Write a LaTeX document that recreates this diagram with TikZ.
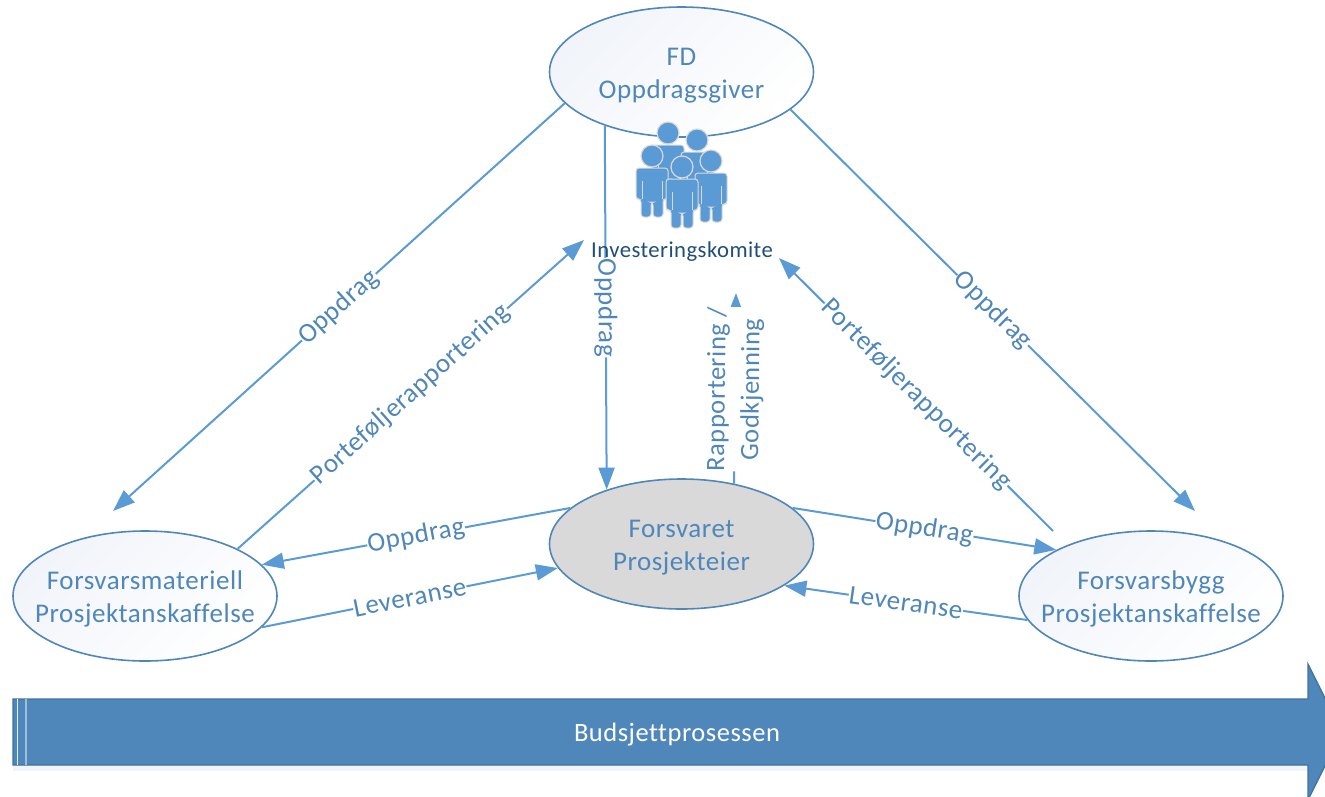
\documentclass[tikz,border=0pt]{standalone}
\usepackage{fontspec}
\setmainfont[LetterSpace=2,Ligatures=NoCommon]{Carlito}
\usetikzlibrary{shapes.geometric,arrows.meta}
\definecolor{boxblue}{HTML}{4F87BA}
\definecolor{lineblue}{HTML}{5B9BD5}
\definecolor{edgeblue}{HTML}{41719C}
\definecolor{navyblue}{HTML}{1F4E79}
\definecolor{paleblue}{HTML}{F1F4FA}
\newcommand{\midtext}[1]{\makebox[0pt]{\raisebox{-10pt}[0pt][0pt]{#1}}}
\tikzset{
  owner/.style={ellipse,draw=boxblue,line width=1.6pt,minimum width=264pt,minimum height=130pt,inner sep=0pt,
    align=center,text=boxblue,font=\fontsize{27}{33}\selectfont,fill=black!15},
  actor/.style={owner,shading=axis,left color=paleblue,right color=white,shading angle=45},
  flow/.style={draw=lineblue,line width=2pt,-{Triangle[length=22pt,width=16pt]}},
  flowlabel/.style={fill=white,inner sep=0.5pt,text=boxblue,font=\fontsize{27}{34}\selectfont,align=center,sloped,midway},
  pics/person/.style={code={
    \draw[fill=lineblue,draw=black!15,line width=1pt,rounded corners=3pt]
      (-16,12) -- (16,12) -- (16,43) -- (11,43) -- (11,61) -- (1,61) -- (1,46) -- (-1,46) -- (-1,61) -- (-11,61) -- (-11,43) -- (-16,43) -- cycle;
    \draw[draw=black!15,line width=0.8pt] (-10,25) -- (-10,43) (10,25) -- (10,43);
    \draw[fill=lineblue,draw=black!15,line width=1.2pt] (0,0) circle (11pt);
  }}
}
\begin{document}
\begin{tikzpicture}[x=1pt,y=-1pt]
  \useasboundingbox (0,0) rectangle (1325,796);
  \clip (0,0) rectangle (1325,796);

  \node[actor] (fd) at (681.5,72) {\midtext{FD}\\\midtext{Oppdragsgiver}};
  \node[owner] (forsvaret) at (681.5,544) {\midtext{Forsvaret}\\\midtext{Prosjekteier}};
  \node[actor] (fm) at (145,596) {\midtext{Forsvarsmateriell}\\\midtext{Prosjektanskaffelse}};
  \node[actor] (fb) at (1151,596) {\midtext{Forsvarsbygg}\\\midtext{Prosjektanskaffelse}};

  \coordinate (fmtip) at (113,511);
  \coordinate (fbtip) at (1195,511);
  \coordinate (fbstart) at (1053,531);
  \coordinate (ikleft) at (584,240);
  \coordinate (ikright) at (779,258);
  \coordinate (ikmid) at (736,293);

  \draw[flow] (fd.195) -- node[flowlabel] {Oppdrag} (fmtip);
  \draw[flow] (fd.215.7) -- node[flowlabel] {Oppdrag} (forsvaret.144);
  \draw[flow] (fd.341.5) -- node[flowlabel] {Oppdrag} (fbtip);
  \draw[flow] (fm.27.3) -- node[flowlabel] {Porteføljerapportering} (ikleft);
  \draw[flow] (fbstart) -- node[flowlabel] {Porteføljerapportering} (ikright);
  \draw[flow] (forsvaret.49) -- node[flowlabel,inner sep=0pt,pos=0.495,font=\fontsize{26.5}{34}\selectfont] {Rapportering /\\Godkjenning} (ikmid);
  \draw[flow] (forsvaret.162) -- node[flowlabel] {Oppdrag} (fm.15.3);
  \draw[flow] (fm.-15.8) -- node[flowlabel] {Leveranse} (forsvaret.191);
  \draw[flow] (forsvaret.18) -- node[flowlabel] {Oppdrag} (fb.154);
  \draw[flow] (fb.191) -- node[flowlabel] {Leveranse} (forsvaret.338.6);

  \pic at (668,133) {person};
  \pic at (697,140) {person};
  \pic at (652,156) {person};
  \pic at (711,161) {person};
  \pic at (682,167) {person};
  \node[text=navyblue,font=\fontsize{22.7}{24}\selectfont,inner sep=0pt] (komite) at (682,252) {Investeringskomite};

  \fill[paleblue] (13,765) rectangle (1308,771);
  \draw[fill=boxblue,draw=edgeblue,line width=1.2pt]
    (13,699) -- (1308,699) -- (1308,664) -- (1342,732) -- (1308,800) -- (1308,765) -- (13,765) -- cycle;
  \draw[white!85!boxblue,line width=1.2pt] (17.5,699) -- (17.5,765);
  \draw[white!45!boxblue,line width=2pt] (26,699) -- (26,765);
  \node[text=white,font=\fontsize{26.5}{30}\selectfont,inner sep=0pt] (budsjett) at (677,735) {Budsjettprosessen};
\end{tikzpicture}
\end{document}
